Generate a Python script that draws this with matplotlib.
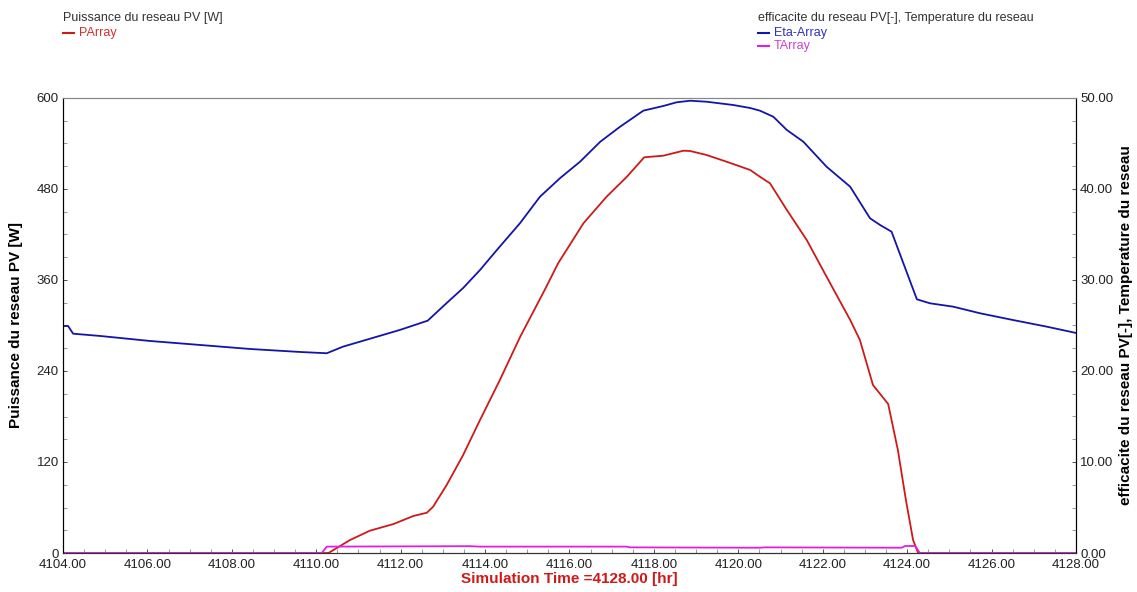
import matplotlib
matplotlib.use("Agg")
import matplotlib.pyplot as plt
from matplotlib.lines import Line2D
from matplotlib.ticker import MultipleLocator, FormatStrFormatter

plt.rcParams['font.family'] = ['Liberation Sans', 'DejaVu Sans']

# PArray [W] (left axis)
p_time = [4104.00, 4110.29, 4110.80, 4111.27, 4111.83, 4112.30, 4112.62, 4112.77,
          4113.09, 4113.48, 4113.88, 4114.35, 4114.83, 4115.42, 4115.73, 4116.33,
          4116.88, 4117.36, 4117.77, 4118.22, 4118.70, 4118.86, 4119.25, 4119.72,
          4120.28, 4120.51, 4120.75, 4121.15, 4121.62, 4122.09, 4122.65, 4122.88,
          4123.19, 4123.55, 4123.78, 4123.97, 4124.14, 4124.26, 4128.00]
p_array = [0, 0, 17.1, 29.4, 38.2, 48.8, 53.1, 61.1,
           89.7, 129.2, 175.4, 228.1, 285.0, 347.7, 382.0, 434.8,
           469.9, 496.2, 521.8, 523.9, 530.5, 530.1, 524.8, 516.0,
           505.1, 496.2, 487.5, 452.3, 412.8, 364.4, 307.3, 280.9,
           221.5, 196.5, 135.8, 69.9, 17.1, 0, 0]

# Eta-Array (right axis)
eta_time = [4104.00, 4104.12, 4104.24, 4104.88, 4106.06, 4107.25, 4108.43, 4109.62,
            4110.25, 4110.63, 4111.98, 4112.64, 4113.09, 4113.48, 4113.88, 4114.28,
            4114.83, 4115.30, 4115.78, 4116.25, 4116.73, 4117.20, 4117.75, 4118.22,
            4118.54, 4118.86, 4119.25, 4119.88, 4120.28, 4120.51, 4120.83, 4121.15,
            4121.54, 4122.09, 4122.65, 4123.12, 4123.36, 4123.63, 4123.91, 4124.23,
            4124.54, 4125.09, 4125.73, 4126.51, 4127.31, 4128.00]
eta_array = [24.95, 24.95, 24.10, 23.85, 23.30, 22.86, 22.42, 22.09,
             21.95, 22.67, 24.51, 25.53, 27.47, 29.12, 31.10, 33.30,
             36.26, 39.15, 41.21, 43.00, 45.20, 46.85, 48.61, 49.12,
             49.53, 49.70, 49.59, 49.23, 48.90, 48.61, 47.94, 46.48,
             45.20, 42.45, 40.25, 36.78, 36.04, 35.31, 31.84, 27.88,
             27.44, 27.07, 26.34, 25.60, 24.87, 24.18]

# TArray (right axis)
t_time = [4104.00, 4110.13, 4110.25, 4113.64, 4113.88, 4117.35, 4117.43, 4120.51,
          4120.63, 4123.87, 4123.95, 4124.19, 4124.30, 4128.00]
t_array = [0, 0, 0.70, 0.75, 0.70, 0.70, 0.62, 0.58,
           0.62, 0.58, 0.77, 0.77, 0, 0]

fig = plt.figure(figsize=(11.37, 5.92), dpi=100)
ax = fig.add_axes([63 / 1137, 1 - 553 / 592, 1013 / 1137, 455 / 592])
ax2 = ax.twinx()

ax.plot(p_time, p_array, color='#cc1a1a', lw=1.3, zorder=3)
ax2.plot(eta_time, eta_array, color='#1414a8', lw=1.3)
ax2.plot(t_time, t_array, color='#e020e0', lw=1.3)

ax.set_xlim(4104, 4128)
ax.set_ylim(0, 600)
ax2.set_ylim(0, 50)

ax.xaxis.set_major_locator(MultipleLocator(2))
ax.xaxis.set_minor_locator(MultipleLocator(0.5))
ax.xaxis.set_major_formatter(FormatStrFormatter('%.2f'))
ax.yaxis.set_major_locator(MultipleLocator(120))
ax.yaxis.set_minor_locator(MultipleLocator(30))
ax2.yaxis.set_major_locator(MultipleLocator(10))
ax2.yaxis.set_minor_locator(MultipleLocator(2.5))
ax2.yaxis.set_major_formatter(FormatStrFormatter('%.2f'))

for a in (ax, ax2):
    a.tick_params(which='both', direction='in', labelsize=9.5, colors='#333333',
                  labelcolor='#222222', pad=3)
    a.tick_params(which='major', length=3, width=0.6)
    a.tick_params(which='minor', length=3, width=0.6, color='#888888')
    a.spines['top'].set_color('#888888')
    a.spines['left'].set_color('black')
    a.spines['right'].set_color('black')
    a.spines['bottom'].set_color('#333333')
ax.tick_params(axis='x', pad=4)

ax.set_xlabel('Simulation Time =4128.00 [hr]', color='#d01818', fontsize=11,
              fontweight='bold', labelpad=1)
ax.set_ylabel('Puissance du reseau PV [W]', fontsize=11, fontweight='bold', labelpad=10)
ax2.set_ylabel('efficacite du reseau PV[-], Temperature du reseau', fontsize=11,
               fontweight='bold', labelpad=4)

# header legends
fig.text(63 / 1137, 1 - 18 / 592, 'Puissance du reseau PV [W]', fontsize=9,
         color='#333333', va='center')
fig.add_artist(Line2D([63 / 1137, 74 / 1137], [1 - 33 / 592] * 2, color='#cc1a1a', lw=1.5))
fig.text(79 / 1137, 1 - 33 / 592, 'PArray', fontsize=9, color='#d03030', va='center')

fig.text(758 / 1137, 1 - 18 / 592, 'efficacite du reseau PV[-], Temperature du reseau',
         fontsize=9, color='#333333', va='center')
fig.add_artist(Line2D([758 / 1137, 769 / 1137], [1 - 33 / 592] * 2, color='#1414a8', lw=1.5))
fig.text(774 / 1137, 1 - 33 / 592, 'Eta-Array', fontsize=9, color='#3030c0', va='center')
fig.add_artist(Line2D([758 / 1137, 769 / 1137], [1 - 46 / 592] * 2, color='#e020e0', lw=1.5))
fig.text(774 / 1137, 1 - 46 / 592, 'TArray', fontsize=9, color='#d040d0', va='center')

fig.savefig('out.png', dpi=100)
